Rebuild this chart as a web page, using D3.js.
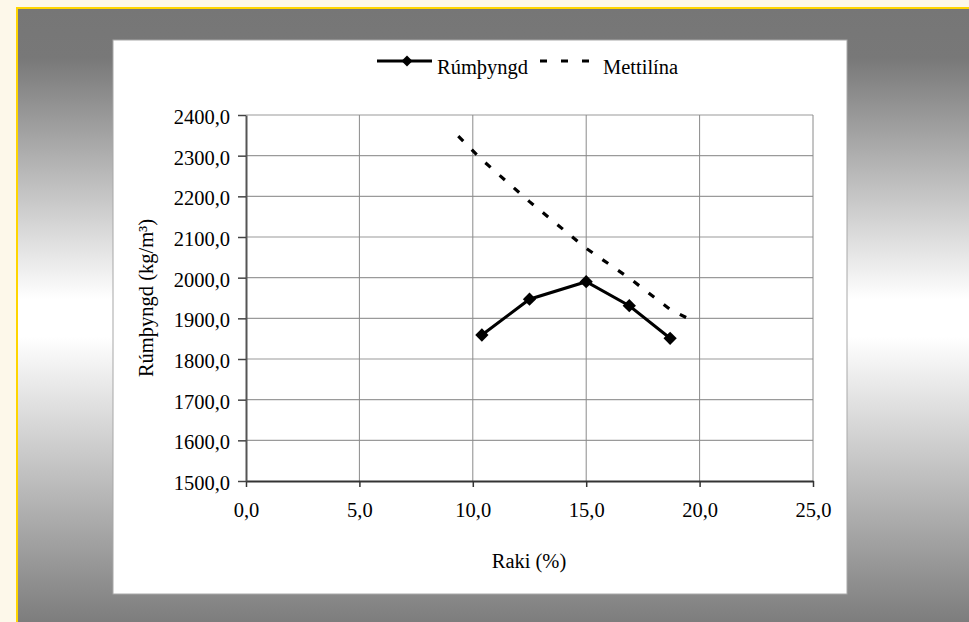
<!DOCTYPE html>
<html>
<head>
<meta charset="utf-8">
<script src="https://cdn.jsdelivr.net/npm/d3@7"></script>
<style>
html,body{margin:0;padding:0;background:#fdf8ea;}
svg{display:block;}
</style>
</head>
<body>
<svg id="chart" width="969" height="622"></svg>
<script>
// ---- data ----
const xTicks = [0, 5, 10, 15, 20, 25];
const yTicks = [1500, 1600, 1700, 1800, 1900, 2000, 2100, 2200, 2300, 2400];
const rakiValues = [10.4, 12.5, 15.0, 16.9, 18.7];
const rumthyngdValues = [1859, 1947, 1990, 1931, 1851];
const mettiRaki = [9.36, 10.4, 12.5, 15.0, 16.9, 18.7, 19.72];
const mettiValues = [2348, 2290, 2187, 2072, 1999, 1922, 1893];
const seriesNames = ["Rúmþyngd", "Mettilína"];
const xTitle = "Raki (%)";
const yTitle = "Rúmþyngd (kg/m³)";

const FONT = "'Liberation Serif','Times New Roman',Times,serif";
const FS = 20.5;

const svg = d3.select("#chart");
const defs = svg.append("defs");
const grad = defs.append("linearGradient").attr("id","bg").attr("x1",0).attr("y1",0).attr("x2",0).attr("y2",1);
[[0,"#767676"],[0.08,"#787878"],[0.47,"#ffffff"],[0.53,"#ffffff"],[1,"#7a7a7a"]]
  .forEach(([o,c]) => grad.append("stop").attr("offset",o).attr("stop-color",c));

// outer panel
svg.append("rect").attr("x",17).attr("y",8).attr("width",960).attr("height",620)
  .attr("fill","url(#bg)").attr("stroke","#ffd500").attr("stroke-width",2);
// white chart area
svg.append("rect").attr("x",113).attr("y",40).attr("width",734).attr("height",554)
  .attr("fill","#fff").attr("stroke","#a8a8a8").attr("stroke-width",1);

const x = d3.scaleLinear().domain([0,25]).range([246,813]);
const y = d3.scaleLinear().domain([1500,2400]).range([481,115]);
const fmt = d => d3.format(".1f")(d).replace(".", ",");

// grid
const g = svg.append("g");
g.selectAll("line.h").data(yTicks.slice(1)).join("line").attr("class","h")
  .attr("x1",x(0)).attr("x2",x(25)).attr("y1",d=>y(d)).attr("y2",d=>y(d))
  .attr("stroke","#9a9a9a").attr("stroke-width",1.2);
g.selectAll("line.v").data(xTicks.slice(1)).join("line").attr("class","v")
  .attr("x1",d=>x(d)).attr("x2",d=>x(d)).attr("y1",y(1500)).attr("y2",y(2400))
  .attr("stroke","#8a8a8a").attr("stroke-width",1);

// axes
const xAxis = svg.append("g").attr("transform",`translate(0,${y(1500)})`)
  .call(d3.axisBottom(x).tickValues(xTicks).tickFormat(fmt).tickSize(6).tickSizeOuter(0))
  .attr("font-family", FONT).attr("font-size", FS);
xAxis.select(".domain").attr("stroke","#333").attr("stroke-width",2);
xAxis.selectAll(".tick line").attr("stroke","#333").attr("stroke-width",1.5);
xAxis.selectAll(".tick text").attr("y",36).attr("dy",0).attr("fill","#000");

const yAxis = svg.append("g").attr("transform",`translate(${x(0)},0)`)
  .call(d3.axisLeft(y).tickValues(yTicks).tickFormat(fmt).tickSize(8).tickSizeOuter(0))
  .attr("font-family", FONT).attr("font-size", FS);
yAxis.select(".domain").attr("stroke","#555").attr("stroke-width",2);
yAxis.selectAll(".tick line").attr("stroke","#444").attr("stroke-width",1.5);
yAxis.selectAll(".tick text").attr("x",-16).attr("dy","0.42em").attr("fill","#000");

// axis titles
svg.append("text").attr("x",529).attr("y",568).attr("text-anchor","middle")
  .attr("font-family",FONT).attr("font-size",FS).text(xTitle);
svg.append("text").attr("transform","translate(153,298) rotate(-90)").attr("text-anchor","middle")
  .attr("font-family",FONT).attr("font-size",FS).text(yTitle);

// dashed line
const metti = mettiRaki.map((r,i)=>[r, mettiValues[i]]);
svg.append("path").datum(metti)
  .attr("d", d3.line().x(d=>x(d[0])).y(d=>y(d[1])))
  .attr("fill","none").attr("stroke","#000").attr("stroke-width",3.2)
  .attr("stroke-dasharray","7,12");

// main series
const pts = rakiValues.map((r,i)=>[r, rumthyngdValues[i]]);
svg.append("path").datum(pts)
  .attr("d", d3.line().x(d=>x(d[0])).y(d=>y(d[1])))
  .attr("fill","none").attr("stroke","#000").attr("stroke-width",3);
const diamond = d3.symbol().type(d3.symbolSquare).size(88);
svg.selectAll("path.pt").data(pts).join("path").attr("class","pt")
  .attr("d", diamond)
  .attr("transform", d=>`translate(${x(d[0])},${y(d[1])}) rotate(45)`)
  .attr("fill","#000");

// legend
const lg = svg.append("g").attr("font-family",FONT).attr("font-size",FS);
lg.append("line").attr("x1",377).attr("x2",432).attr("y1",61).attr("y2",61)
  .attr("stroke","#000").attr("stroke-width",3);
lg.append("path").attr("d", d3.symbol().type(d3.symbolSquare).size(60))
  .attr("transform","translate(407,61) rotate(45)").attr("fill","#000");
lg.append("text").attr("x",437).attr("y",74).text(seriesNames[0]);
lg.append("line").attr("x1",540).attr("x2",590).attr("y1",61).attr("y2",61)
  .attr("stroke","#000").attr("stroke-width",3.2).attr("stroke-dasharray","7,14");
lg.append("text").attr("x",603).attr("y",74).text(seriesNames[1]);
</script>
</body>
</html>
